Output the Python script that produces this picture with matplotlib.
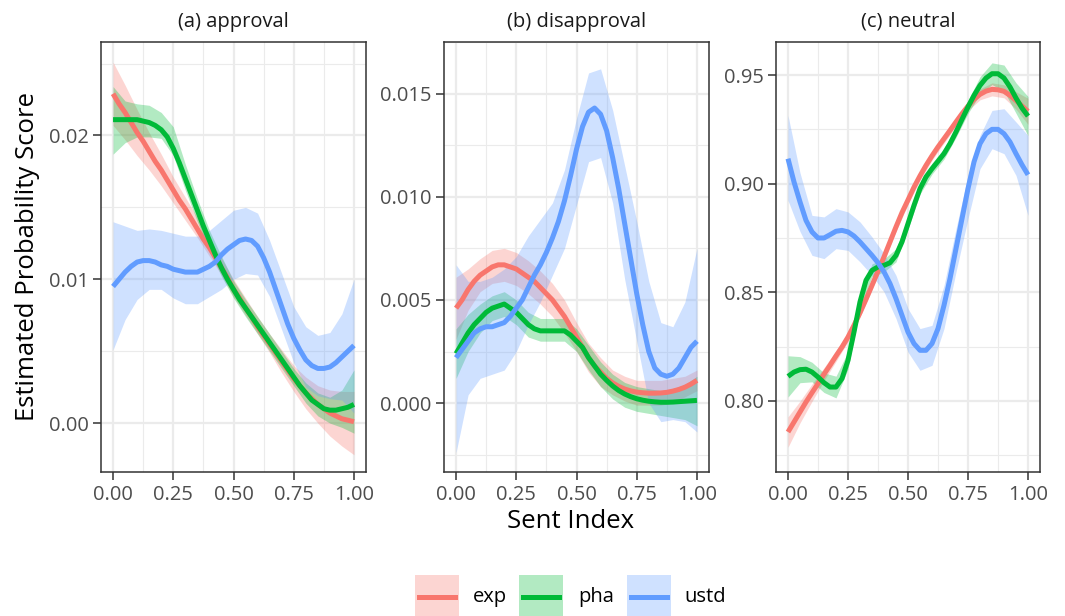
import matplotlib
matplotlib.use("Agg")
import matplotlib.pyplot as plt
from matplotlib.patches import Rectangle
from matplotlib.lines import Line2D
from matplotlib.ticker import FixedLocator

plt.rcParams['font.family'] = ['Open Sans', 'DejaVu Sans']

# x positions where the confidence bands were read
x = [0.0, 0.05, 0.1, 0.15, 0.2, 0.25, 0.3, 0.35, 0.4, 0.45, 0.5,
     0.55, 0.6, 0.65, 0.7, 0.75, 0.8, 0.85, 0.9, 0.95, 1.0]
# x positions where the smooth lines were read
x_fine = [0.0, 0.025, 0.05, 0.075, 0.1, 0.125, 0.15, 0.175, 0.2, 0.225, 0.25,
          0.275, 0.3, 0.325, 0.35, 0.375, 0.4, 0.425, 0.45, 0.475, 0.5,
          0.525, 0.55, 0.575, 0.6, 0.625, 0.65, 0.675, 0.7, 0.725, 0.75,
          0.775, 0.8, 0.825, 0.85, 0.875, 0.9, 0.925, 0.95, 0.975, 1.0]

groups = ['exp', 'pha', 'ustd']
colors = ['#F8766D', '#00BA38', '#619CFF']
panel_titles = ['(a) approval', '(b) disapproval', '(c) neutral']

# ---- (a) approval ----
exp_mean_a = [0.0229, 0.0222, 0.0216, 0.0209, 0.0202, 0.0196, 0.0189, 0.0182, 0.0176, 0.0169, 0.0162,
              0.0155, 0.0149, 0.0142, 0.0135, 0.0128, 0.0122, 0.0115, 0.0108, 0.0101, 0.0093,
              0.0087, 0.0080, 0.0074, 0.0067, 0.0061, 0.0055, 0.0049, 0.0043, 0.0037, 0.0031,
              0.0026, 0.0021, 0.0017, 0.0013, 0.0010, 0.0007, 0.0005, 0.0003, 0.0002, 0.0001]
exp_lo_a = [0.0207, 0.0197, 0.0186, 0.0176, 0.0165, 0.0153, 0.0141, 0.0129, 0.0116, 0.0103, 0.0088,
            0.0075, 0.0062, 0.0049, 0.0035, 0.0022, 0.0010, 0.0000, -0.0009, -0.0016, -0.0022]
exp_hi_a = [0.0251, 0.0235, 0.0218, 0.0202, 0.0187, 0.0171, 0.0157, 0.0143, 0.0128, 0.0115, 0.0100,
            0.0087, 0.0074, 0.0062, 0.0051, 0.0040, 0.0032, 0.0026, 0.0023, 0.0022, 0.0022]
pha_mean_a = [0.0211, 0.0211, 0.0211, 0.0211, 0.0211, 0.0210, 0.0209, 0.0207, 0.0204, 0.0199, 0.0191,
              0.0181, 0.0170, 0.0159, 0.0148, 0.0137, 0.0127, 0.0117, 0.0108, 0.0100, 0.0093,
              0.0086, 0.0080, 0.0074, 0.0068, 0.0062, 0.0056, 0.0050, 0.0044, 0.0038, 0.0032,
              0.0026, 0.0021, 0.0016, 0.0013, 0.0010, 0.0009, 0.0009, 0.0010, 0.0011, 0.0013]
pha_lo_a = [0.0187, 0.0195, 0.0199, 0.0199, 0.0198, 0.0186, 0.0162, 0.0140, 0.0120, 0.0102, 0.0087,
            0.0074, 0.0062, 0.0050, 0.0038, 0.0026, 0.0014, 0.0005, 0.0000, -0.0003, -0.0007]
pha_hi_a = [0.0234, 0.0224, 0.0222, 0.0221, 0.0216, 0.0206, 0.0180, 0.0156, 0.0134, 0.0116, 0.0099,
            0.0086, 0.0074, 0.0062, 0.0050, 0.0038, 0.0028, 0.0021, 0.0018, 0.0023, 0.0037]
ustd_mean_a = [0.0095, 0.0100, 0.0105, 0.0109, 0.0112, 0.0113, 0.0113, 0.0112, 0.0110, 0.0109, 0.0107,
               0.0106, 0.0105, 0.0105, 0.0105, 0.0107, 0.0109, 0.0112, 0.0117, 0.0121, 0.0124,
               0.0127, 0.0128, 0.0127, 0.0123, 0.0115, 0.0105, 0.0093, 0.0081, 0.0069, 0.0059,
               0.0051, 0.0044, 0.0040, 0.0038, 0.0038, 0.0039, 0.0042, 0.0046, 0.0050, 0.0054]
ustd_lo_a = [0.0051, 0.0072, 0.0086, 0.0093, 0.0093, 0.0087, 0.0083, 0.0083, 0.0088, 0.0093, 0.0100,
             0.0104, 0.0103, 0.0088, 0.0065, 0.0042, 0.0025, 0.0019, 0.0017, 0.0016, 0.0007]
ustd_hi_a = [0.0140, 0.0137, 0.0134, 0.0135, 0.0134, 0.0132, 0.0130, 0.0130, 0.0134, 0.0141, 0.0148,
             0.0150, 0.0146, 0.0127, 0.0104, 0.0081, 0.0067, 0.0061, 0.0063, 0.0076, 0.0100]

# ---- (b) disapproval ----
exp_mean_b = [0.0046, 0.0050, 0.0055, 0.0059, 0.0062, 0.0064, 0.0066, 0.0067, 0.0067, 0.0066, 0.0065,
              0.0063, 0.0061, 0.0059, 0.0056, 0.0053, 0.0050, 0.0046, 0.0042, 0.0037, 0.0032,
              0.0027, 0.0022, 0.0018, 0.0015, 0.0012, 0.00098, 0.00081, 0.00068, 0.00059, 0.00053,
              0.00050, 0.00048, 0.00048, 0.00049, 0.00052, 0.00058, 0.00066, 0.00077, 0.00092, 0.00110]
exp_lo_b = [0.0031, 0.0045, 0.0054, 0.0058, 0.0059, 0.0057, 0.0053, 0.0048, 0.0042, 0.0034, 0.0025,
            0.0015, 0.0008, 0.0004, 0.0001, -0.0001, -0.0001, -0.0001, 0.0000, 0.0003, 0.0006]
exp_hi_b = [0.0061, 0.0065, 0.0070, 0.0074, 0.0075, 0.0073, 0.0069, 0.0064, 0.0058, 0.0050, 0.0039,
            0.0029, 0.0022, 0.0016, 0.0013, 0.0011, 0.0011, 0.0011, 0.0012, 0.0013, 0.0016]
pha_mean_b = [0.0024, 0.0029, 0.0034, 0.0038, 0.0041, 0.0044, 0.0046, 0.0047, 0.0048, 0.0046, 0.0044,
              0.0041, 0.0038, 0.0036, 0.0035, 0.0035, 0.0035, 0.0035, 0.0035, 0.0033, 0.0030,
              0.0027, 0.0022, 0.0018, 0.0014, 0.0011, 0.00083, 0.00061, 0.00044, 0.00031, 0.00021,
              0.00014, 0.00009, 0.00006, 0.00004, 0.00004, 0.00005, 0.00007, 0.00009, 0.00011, 0.00013]
pha_lo_b = [0.0012, 0.0025, 0.0034, 0.0040, 0.0042, 0.0038, 0.0032, 0.0030, 0.0030, 0.0030, 0.0025,
            0.0016, 0.0008, 0.0002, -0.0002, -0.0004, -0.0005, -0.0006, -0.0007, -0.0008, -0.0011]
pha_hi_b = [0.0036, 0.0043, 0.0048, 0.0052, 0.0054, 0.0050, 0.0044, 0.0041, 0.0041, 0.0041, 0.0036,
            0.0028, 0.0020, 0.0014, 0.0010, 0.0008, 0.0007, 0.0006, 0.0007, 0.0009, 0.0013]
ustd_mean_b = [0.0022, 0.0026, 0.0030, 0.0034, 0.0036, 0.0037, 0.0037, 0.0038, 0.0039, 0.0042, 0.0046,
               0.0050, 0.0056, 0.0062, 0.0067, 0.0073, 0.0080, 0.0088, 0.0098, 0.0110, 0.0123,
               0.0134, 0.0141, 0.0143, 0.0140, 0.0132, 0.0119, 0.0104, 0.0087, 0.0070, 0.0053,
               0.0038, 0.0025, 0.0017, 0.0014, 0.0013, 0.0014, 0.0017, 0.0022, 0.0027, 0.0030]
ustd_lo_b = [-0.0024, 0.0004, 0.0012, 0.0014, 0.0016, 0.0025, 0.0038, 0.0049, 0.0062, 0.0075, 0.0096,
             0.0117, 0.0119, 0.0097, 0.0060, 0.0030, 0.0000, -0.0009, -0.0008, -0.0009, -0.0014]
ustd_hi_b = [0.0067, 0.0059, 0.0059, 0.0061, 0.0065, 0.0071, 0.0081, 0.0089, 0.0097, 0.0113, 0.0138,
             0.0160, 0.0162, 0.0142, 0.0115, 0.0088, 0.0059, 0.0039, 0.0037, 0.0049, 0.0075]

# ---- (c) neutral ----
exp_mean_c = [0.7857, 0.7903, 0.7949, 0.7995, 0.8038, 0.8080, 0.8123, 0.8164, 0.8207, 0.8248, 0.8294,
              0.8348, 0.8406, 0.8468, 0.8532, 0.8597, 0.8663, 0.8732, 0.8801, 0.8867, 0.8925,
              0.8984, 0.9036, 0.9084, 0.9128, 0.9169, 0.9207, 0.9245, 0.9284, 0.9322, 0.9357,
              0.9388, 0.9411, 0.9426, 0.9434, 0.9432, 0.9425, 0.9406, 0.9383, 0.9357, 0.9333]
exp_lo_c = [0.7787, 0.7899, 0.7998, 0.8093, 0.8182, 0.8274, 0.8386, 0.8512, 0.8643, 0.8781, 0.8905,
            0.9016, 0.9108, 0.9187, 0.9264, 0.9337, 0.9386, 0.9404, 0.9395, 0.9343, 0.9273]
exp_hi_c = [0.7927, 0.7999, 0.8078, 0.8153, 0.8232, 0.8314, 0.8426, 0.8552, 0.8683, 0.8821, 0.8945,
            0.9056, 0.9148, 0.9227, 0.9304, 0.9377, 0.9436, 0.9464, 0.9455, 0.9423, 0.9393]
pha_mean_c = [0.8113, 0.8133, 0.8144, 0.8146, 0.8133, 0.8110, 0.8084, 0.8064, 0.8064, 0.8103, 0.8187,
              0.8317, 0.8456, 0.8555, 0.8601, 0.8617, 0.8624, 0.8636, 0.8670, 0.8732, 0.8816,
              0.8900, 0.8977, 0.9031, 0.9069, 0.9103, 0.9138, 0.9184, 0.9238, 0.9296, 0.9353,
              0.9406, 0.9452, 0.9486, 0.9506, 0.9506, 0.9486, 0.9445, 0.9394, 0.9348, 0.9311]
pha_lo_c = [0.8018, 0.8084, 0.8088, 0.8039, 0.8014, 0.8147, 0.8426, 0.8571, 0.8594, 0.8640, 0.8791,
            0.8952, 0.9044, 0.9113, 0.9213, 0.9323, 0.9412, 0.9456, 0.9426, 0.9324, 0.9221]
pha_hi_c = [0.8208, 0.8204, 0.8178, 0.8129, 0.8114, 0.8227, 0.8486, 0.8631, 0.8654, 0.8700, 0.8841,
            0.9002, 0.9094, 0.9163, 0.9263, 0.9383, 0.9492, 0.9556, 0.9546, 0.9464, 0.9401]
ustd_mean_c = [0.9115, 0.9008, 0.8916, 0.8831, 0.8778, 0.8750, 0.8750, 0.8765, 0.8781, 0.8785, 0.8778,
               0.8759, 0.8732, 0.8701, 0.8670, 0.8636, 0.8594, 0.8540, 0.8471, 0.8394, 0.8317,
               0.8264, 0.8233, 0.8233, 0.8264, 0.8333, 0.8440, 0.8563, 0.8701, 0.8839, 0.8977,
               0.9100, 0.9184, 0.9230, 0.9250, 0.9250, 0.9230, 0.9192, 0.9138, 0.9087, 0.9041]
ustd_lo_c = [0.8923, 0.8780, 0.8670, 0.8655, 0.8701, 0.8693, 0.8640, 0.8578, 0.8502, 0.8379, 0.8225,
             0.8141, 0.8164, 0.8333, 0.8594, 0.8839, 0.9069, 0.9161, 0.9138, 0.9038, 0.8854]
ustd_hi_c = [0.9314, 0.9050, 0.8854, 0.8847, 0.8885, 0.8870, 0.8824, 0.8755, 0.8678, 0.8578, 0.8425,
             0.8333, 0.8348, 0.8532, 0.8793, 0.9038, 0.9222, 0.9337, 0.9345, 0.9284, 0.9222]

# axis ticks / labels
x_ticks = [0.0, 0.25, 0.5, 0.75, 1.0]
x_ticklabels = ['0.00', '0.25', '0.50', '0.75', '1.00']
y_ticks = [[0.0, 0.01, 0.02], [0.0, 0.005, 0.010, 0.015], [0.80, 0.85, 0.90, 0.95]]
y_ticklabels = [['0.00', '0.01', '0.02'], ['0.000', '0.005', '0.010', '0.015'],
                ['0.80', '0.85', '0.90', '0.95']]
y_minor = [[-0.005, 0.005, 0.015, 0.025], [-0.0025, 0.0025, 0.0075, 0.0125, 0.0175],
           [0.775, 0.825, 0.875, 0.925]]
y_limits = [(-0.0034, 0.0265), (-0.00334, 0.0175), (0.7673, 0.9652)]

panels = [
    [(exp_mean_a, exp_lo_a, exp_hi_a), (pha_mean_a, pha_lo_a, pha_hi_a), (ustd_mean_a, ustd_lo_a, ustd_hi_a)],
    [(exp_mean_b, exp_lo_b, exp_hi_b), (pha_mean_b, pha_lo_b, pha_hi_b), (ustd_mean_b, ustd_lo_b, ustd_hi_b)],
    [(exp_mean_c, exp_lo_c, exp_hi_c), (pha_mean_c, pha_lo_c, pha_hi_c), (ustd_mean_c, ustd_lo_c, ustd_hi_c)],
]

W, H = 1065, 616
fig = plt.figure(figsize=(W / 100, H / 100), dpi=100)

# panel boxes in pixels
lefts = [101, 444, 776]
rights = [366, 709, 1040]
top, bottom = 42, 472

for i in range(3):
    ax = fig.add_axes([lefts[i] / W, 1 - bottom / H, (rights[i] - lefts[i]) / W, (bottom - top) / H])
    # ribbon then line for each group, like geom_smooth
    for (mean, lo, hi), col in zip(panels[i], colors):
        ax.fill_between(x, lo, hi, color=col, alpha=0.3, linewidth=0)
        ax.plot(x_fine, mean, color=col, linewidth=3.6, solid_capstyle='butt',
                solid_joinstyle='round')
    ax.set_xlim(-0.05, 1.05)
    ax.set_ylim(*y_limits[i])
    ax.set_xticks(x_ticks)
    ax.set_xticklabels(x_ticklabels)
    ax.set_yticks(y_ticks[i])
    ax.set_yticklabels(y_ticklabels[i])
    ax.xaxis.set_minor_locator(FixedLocator([0.125, 0.375, 0.625, 0.875]))
    ax.yaxis.set_minor_locator(FixedLocator(y_minor[i]))
    ax.grid(which='major', color='#EBEBEB', linewidth=1.6)
    ax.grid(which='minor', color='#EBEBEB', linewidth=0.8)
    ax.set_axisbelow(True)
    ax.tick_params(which='major', length=5.5, width=1.1, color='#333333',
                   labelcolor='#4D4D4D', labelsize=14.5, pad=3.5)
    ax.tick_params(which='minor', length=0)
    for sp in ax.spines.values():
        sp.set_color('#333333')
        sp.set_linewidth(1.1)
    ax.text(0.5, 1 + 20 / (bottom - top), panel_titles[i], transform=ax.transAxes,
            ha='center', va='center', fontsize=14.5, color='#1A1A1A')

fig.text(27.5 / W, 1 - 257 / H, 'Estimated Probability Score', rotation=90,
         ha='center', va='center', fontsize=18.5, color='black')
fig.text(571 / W, 1 - 521 / H, 'Sent Index', ha='center', va='center',
         fontsize=18.5, color='black')

# legend at the bottom
key_left = [415, 519, 627]
text_left = [473, 578, 684]
for k in range(3):
    fig.patches.append(Rectangle((key_left[k] / W, 1 - 619 / H), 44 / W, 44 / H,
                                 transform=fig.transFigure, facecolor=colors[k],
                                 alpha=0.3, linewidth=0))
    fig.lines.append(Line2D([(key_left[k] + 4) / W, (key_left[k] + 40) / W],
                            [1 - 597 / H, 1 - 597 / H], transform=fig.transFigure,
                            color=colors[k], linewidth=3.6))
    fig.text(text_left[k] / W, 1 - 597 / H, groups[k], ha='left', va='center',
             fontsize=14.5, color='black')

fig.savefig('out.png', dpi=100)
